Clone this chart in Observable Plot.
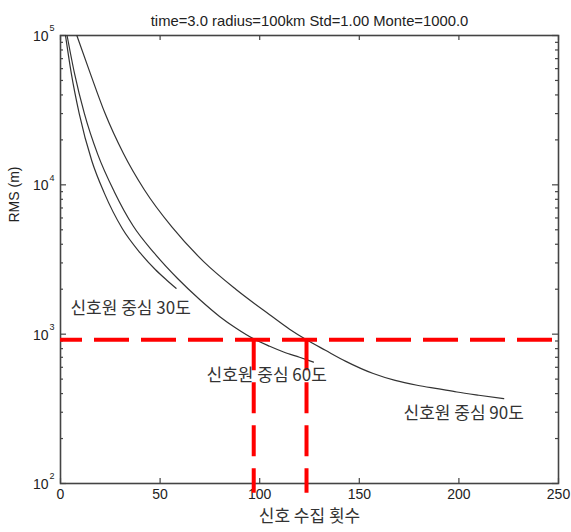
<!DOCTYPE html>
<html><head><meta charset="utf-8">
<script src="https://cdn.jsdelivr.net/npm/d3@7"></script>
<script src="https://cdn.jsdelivr.net/npm/@observablehq/plot@0.6"></script>
<style>body{margin:0;background:#fff}</style>
</head><body><div id="chart"></div>
<script>
const title = "time=3.0 radius=100km Std=1.00 Monte=1000.0";
const xLabel = "신호 수집 횟수";
const yLabel = "RMS (m)";
const xTicks = [0, 50, 100, 150, 200, 250];
const yMajorTicks = [1e2, 1e3, 1e4, 1e5];
const yMinorTicks = [200,300,400,500,600,700,800,900,2000,3000,4000,5000,6000,7000,8000,9000,20000,30000,40000,50000,60000,70000,80000,90000];

// curve: 신호원 중심 30도
const deg30X = [2.5, 5.4, 9.4, 15.7, 22, 31, 40, 47.7, 53.5, 58];
const deg30Y = [100000, 56000, 30000, 14500, 8800, 5100, 3500, 2700, 2290, 2030];
// curve: 신호원 중심 60도
const deg60X = [3.3, 7, 12, 18.7, 27, 36.5, 47, 58.9, 70, 80, 88, 97, 105, 112, 120, 127];
const deg60Y = [100000, 56000, 30000, 16000, 9000, 5300, 3500, 2350, 1700, 1310, 1100, 930, 830, 760, 700, 650];
// curve: 신호원 중심 90도
const deg90X = [8.2, 14.9, 22.4, 31.6, 42, 56, 72, 88, 105, 115, 123.5, 133, 143, 157, 168, 179, 190, 199, 210, 222.5];
const deg90Y = [100000, 56000, 30000, 16200, 9300, 5200, 3050, 2000, 1350, 1080, 917, 780, 660, 545, 490, 455, 430, 410, 390, 370];

const seriesNames = ["신호원 중심 30도", "신호원 중심 60도", "신호원 중심 90도"];
const labelX = [5, 73.3, 172.2];
const labelY = [1486, 528, 294];

const thresholdRMS = 917;
const crossX = [97, 123.5];
const dashBottom = 86;

const toRows = (xs, ys, name) => xs.map((x, i) => ({x, y: ys[i], name}));
const curves = [
  ...toRows(deg30X, deg30Y, seriesNames[0]),
  ...toRows(deg60X, deg60Y, seriesNames[1]),
  ...toRows(deg90X, deg90Y, seriesNames[2])
];
const labels = seriesNames.map((name, i) => ({name, x: labelX[i], y: labelY[i]}));

const W = 571, H = 532, mL = 60, mR = 13, mT = 35, mB = 49;
const fw = W - mL - mR, fh = H - mT - mB;
const ink = "#222";

const chart = Plot.plot({
  width: W, height: H,
  marginLeft: mL, marginRight: mR, marginTop: mT, marginBottom: mB,
  style: {background: "#fff", fontFamily: "Liberation Sans, Arial, sans-serif"},
  x: {domain: [0, 250], axis: null},
  y: {type: "log", domain: [100, 100000], axis: null},
  marks: [
    // ticks (inward, MATLAB-style)
    Plot.tickX(xTicks, {x: d => d, insetTop: fh - 5, stroke: "#444", strokeWidth: 1.2}),
    Plot.tickX(xTicks, {x: d => d, insetBottom: fh - 5, stroke: "#444", strokeWidth: 1.2}),
    Plot.tickY(yMajorTicks, {y: d => d, insetRight: fw - 6, stroke: "#444", strokeWidth: 1.2}),
    Plot.tickY(yMajorTicks, {y: d => d, insetLeft: fw - 6, stroke: "#444", strokeWidth: 1.2}),
    Plot.tickY(yMinorTicks, {y: d => d, insetRight: fw - 3, stroke: "#444", strokeWidth: 1.2}),
    Plot.tickY(yMinorTicks, {y: d => d, insetLeft: fw - 3, stroke: "#444", strokeWidth: 1.2}),
    Plot.frame({stroke: "#444", strokeWidth: 1.6}),
    // tick labels
    Plot.text(xTicks, {x: d => d, frameAnchor: "bottom", dy: 15, text: d => String(d), fontSize: 14, fill: ink}),
    Plot.text(yMajorTicks, {y: d => d, frameAnchor: "left", dx: -12, dy: 1, textAnchor: "end", text: () => "10", fontSize: 14, fill: ink}),
    Plot.text(yMajorTicks, {y: d => d, frameAnchor: "left", dx: -11, dy: -7, textAnchor: "start", text: d => String(Math.round(Math.log10(d))), fontSize: 9, fill: ink}),
    // curves
    Plot.line(curves, {x: "x", y: "y", z: "name", stroke: "#333", strokeWidth: 1.2, curve: "monotone-x"}),
    // red dashed guide lines
    Plot.ruleY([thresholdRMS], {y: d => d, x1: 0, x2: 250, stroke: "#ff0000", strokeWidth: 4, strokeDasharray: "35,12", strokeDashoffset: 13}),
    Plot.ruleX(crossX, {x: d => d, y1: thresholdRMS, y2: dashBottom, stroke: "#ff0000", strokeWidth: 4, strokeDasharray: "31,12"}),
    // series labels
    Plot.text(labels, {x: "x", y: "y", text: "name", textAnchor: "start", fontSize: 17, fill: "#333", fontFamily: "Noto Sans CJK KR"}),
    // title and axis labels
    Plot.text([title], {frameAnchor: "top", dy: -20, text: d => d, fontSize: 14.8, fill: ink}),
    Plot.text([yLabel], {frameAnchor: "left", dx: -46, dy: -37, rotate: -90, text: d => d, fontSize: 14, fill: ink}),
    Plot.text([xLabel], {frameAnchor: "bottom", dy: 38, text: d => d, fontSize: 17, fill: "#333", fontFamily: "Noto Sans CJK KR"})
  ]
});
document.getElementById("chart").appendChild(chart);
</script>
</body></html>
